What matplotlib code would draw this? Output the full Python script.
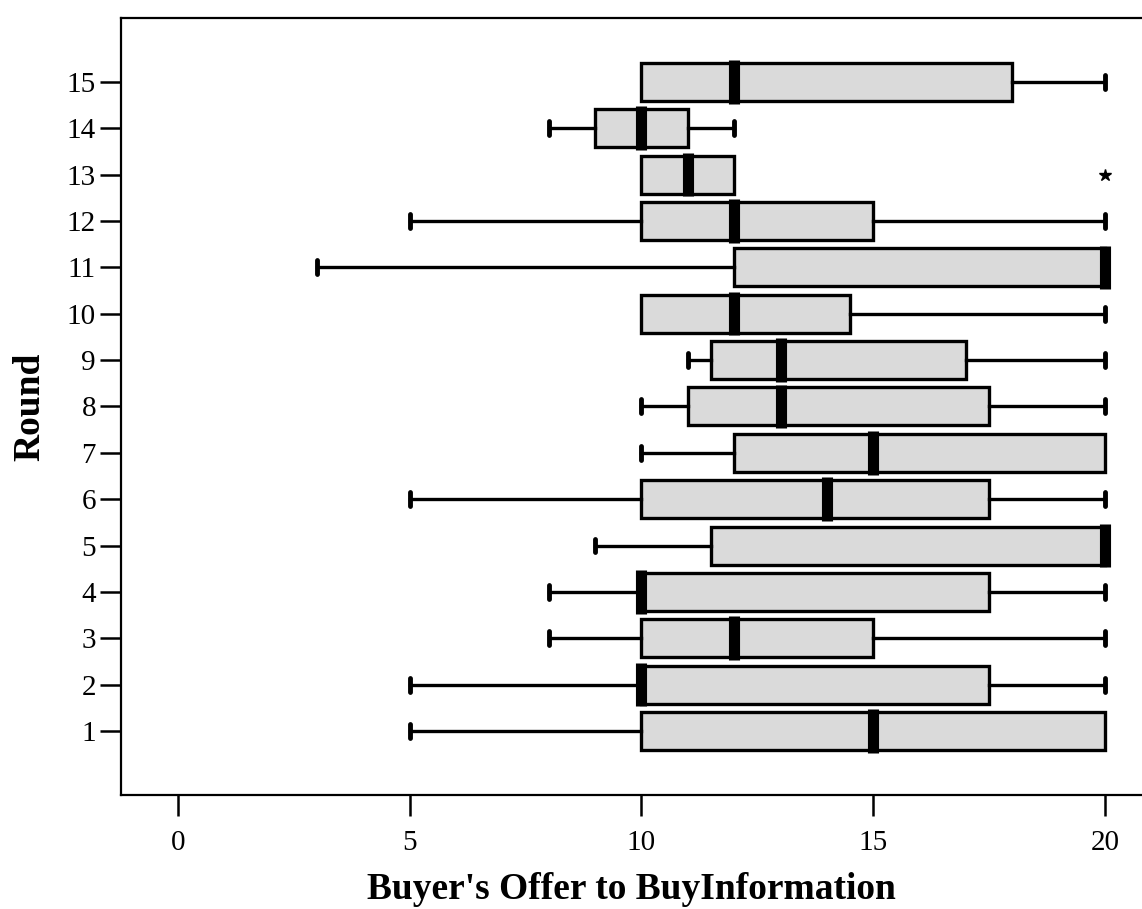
import numpy as np
import matplotlib.pyplot as plt

# five-number summaries of the buyer's offer, one entry per round (1..15)
rounds = list(range(1, 16))
whisker_low = [5, 5, 8, 8, 9, 5, 10, 10, 11, 10, 3, 5, 10, 8, 10]
q1 = [10, 10, 10, 10, 11.5, 10, 12, 11, 11.5, 10, 12, 10, 10, 9, 10]
median = [15, 10, 12, 10, 20, 14, 15, 13, 13, 12, 20, 12, 11, 10, 12]
q3 = [20, 17.5, 15, 17.5, 20, 17.5, 20, 17.5, 17, 14.5, 20, 15, 12, 11, 18]
whisker_high = [20, 20, 20, 20, 20, 20, 20, 20, 20, 20, 20, 20, 12, 12, 20]
outliers = {13: [20]}

stats = []
for i, r in enumerate(rounds):
    stats.append({
        "label": str(r),
        "whislo": whisker_low[i],
        "q1": q1[i],
        "med": median[i],
        "q3": q3[i],
        "whishi": whisker_high[i],
        "fliers": outliers.get(r, []),
    })

plt.rcParams["font.family"] = ["Liberation Serif", "DejaVu Serif"]

fig = plt.figure(figsize=(11.42, 9.09), dpi=100)
ax = fig.add_axes([0.106, 0.1254, 0.894, 0.855])

parts = ax.bxp(
    stats,
    positions=rounds,
    orientation="horizontal",
    widths=0.82,
    patch_artist=True,
    capwidths=0.3,
    boxprops=dict(facecolor="#dadada", edgecolor="black", linewidth=2.4),
    medianprops=dict(color="black", linewidth=8, solid_capstyle="butt"),
    whiskerprops=dict(color="black", linewidth=2.4),
    capprops=dict(color="black", linewidth=3.5, solid_capstyle="round"),
    flierprops=dict(marker="*", markersize=9, markerfacecolor="black",
                    markeredgecolor="black"),
)

# no cap where the whisker has zero length
for i in range(len(rounds)):
    if whisker_low[i] == q1[i]:
        parts["caps"][2 * i].set_visible(False)
    if whisker_high[i] == q3[i]:
        parts["caps"][2 * i + 1].set_visible(False)

# let the median bars poke slightly past the box edges
for line in parts["medians"]:
    y = line.get_ydata()
    line.set_ydata([y[0] - 0.06, y[1] + 0.06])

ax.set_xlim(-1.23, 20.8)
ax.set_ylim(-0.38, 16.38)
ax.set_xticks([0, 5, 10, 15, 20])
ax.set_yticks(rounds)
ax.set_yticklabels([str(r) for r in rounds])

ax.spines["right"].set_visible(False)
for s in ["left", "top", "bottom"]:
    ax.spines[s].set_linewidth(1.6)

ax.tick_params(axis="both", direction="out", length=15, width=1.8,
               labelsize=21, colors="black")
ax.tick_params(axis="x", pad=10)
ax.tick_params(axis="y", pad=3)

ax.set_xlabel("Buyer's Offer to BuyInformation", fontsize=27,
              fontweight="bold", labelpad=12)
ax.set_ylabel("Round", fontsize=27, fontweight="bold", labelpad=14)

fig.savefig("out.png", dpi=100)
